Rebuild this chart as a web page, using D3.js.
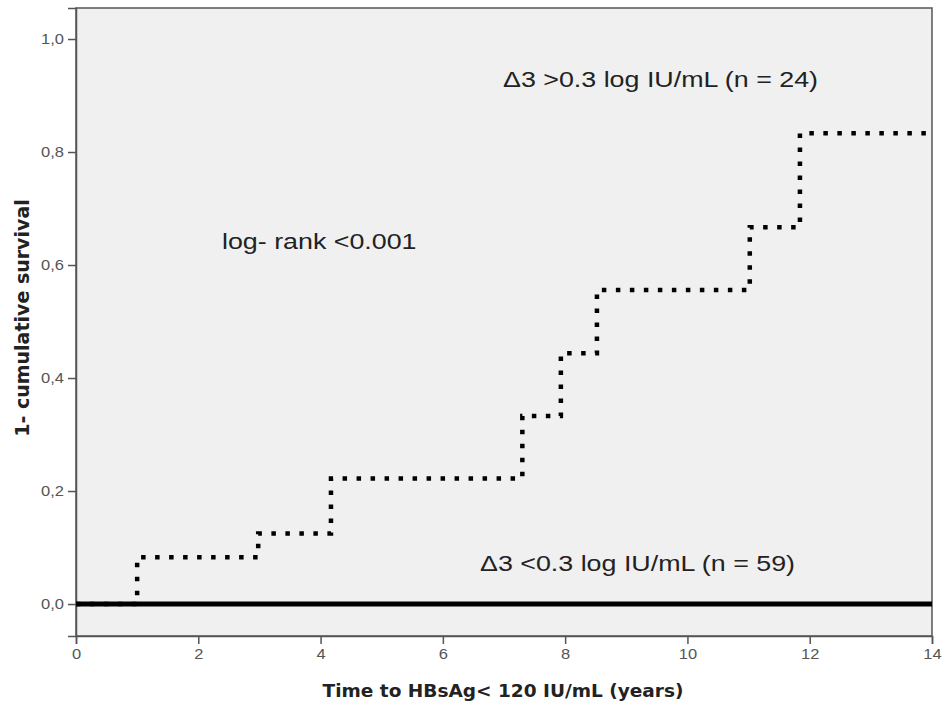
<!DOCTYPE html>
<html>
<head>
<meta charset="utf-8">
<script src="https://cdn.jsdelivr.net/npm/d3@7"></script>
<style>
  body { margin: 0; background: #fff; }
  svg { display: block; }
</style>
</head>
<body>
<div id="chart"></div>
<script>
// step points of the Δ3 >0.3 group (time in years, 1 - cumulative survival)
var highTimes = [0, 1.0, 2.98, 4.17, 7.3, 7.93, 8.52, 11.02, 11.84, 14];
var highValues = [0, 0.083, 0.125, 0.222, 0.333, 0.444, 0.556, 0.667, 0.833, 0.833];
// Δ3 <0.3 group stays at zero
var lowTimes = [0, 14];
var lowValues = [0, 0];

var xTicks = [0, 2, 4, 6, 8, 10, 12, 14];
var yTicks = [0, 0.2, 0.4, 0.6, 0.8, 1.0];

var width = 952, height = 706;
var plotLeft = 76, plotRight = 932, plotTop = 8, plotBottom = 636;

var svg = d3.select("#chart").append("svg")
    .attr("width", width)
    .attr("height", height);

var x = d3.scaleLinear().domain([0, 14]).range([plotLeft, plotRight]);
var y = d3.scaleLinear().domain([-0.0566, 1.0549]).range([plotBottom, plotTop]);

// plot background
svg.append("rect")
    .attr("x", plotLeft).attr("y", plotTop)
    .attr("width", plotRight - plotLeft).attr("height", plotBottom - plotTop)
    .attr("fill", "#f0f0f0")
    .attr("stroke", "#555")
    .attr("stroke-width", 1.5);

var comma = d3.formatLocale({ decimal: ",", thousands: ".", grouping: [3], currency: ["", ""] }).format(".1f");

var xAxis = svg.append("g")
    .attr("transform", "translate(0," + plotBottom + ")")
    .call(d3.axisBottom(x).tickValues(xTicks).tickSize(8).tickPadding(4).tickFormat(d3.format("d")));

var yAxis = svg.append("g")
    .attr("transform", "translate(" + plotLeft + ",0)")
    .call(d3.axisLeft(y).tickValues(yTicks).tickSize(8).tickPadding(3).tickFormat(comma));

[xAxis, yAxis].forEach(function (g) {
    g.select(".domain").attr("stroke", "#555").attr("stroke-width", 1.5);
    g.selectAll(".tick line").attr("stroke", "#555").attr("stroke-width", 1.5);
    g.selectAll(".tick text")
        .attr("fill", "#555")
        .attr("transform", "scale(1.1,1)")
        .style("font-family", "Liberation Sans, Arial, sans-serif")
        .style("font-size", "15px");
});

var line = d3.line()
    .x(function (d) { return x(d[0]); })
    .y(function (d) { return y(d[1]); })
    .curve(d3.curveStepAfter);

svg.append("path")
    .datum(d3.zip(lowTimes, lowValues))
    .attr("d", line)
    .attr("fill", "none")
    .attr("stroke", "#000")
    .attr("stroke-width", 5);

svg.append("path")
    .datum(d3.zip(highTimes, highValues))
    .attr("d", line)
    .attr("fill", "none")
    .attr("stroke", "#000")
    .attr("stroke-width", 4.5)
    .attr("stroke-dasharray", "4.5,9.5");

// annotations (the source image is stretched sideways, hence the x scale)
var notes = [
    { x: 503, y: 87, t: "Δ3 >0.3 log IU/mL (n = 24)" },
    { x: 222, y: 249, t: "log- rank <0.001" },
    { x: 480, y: 571, t: "Δ3 <0.3 log IU/mL (n = 59)" }
];
svg.selectAll(".note")
    .data(notes)
    .enter().append("text")
    .attr("class", "note")
    .attr("transform", function (d) { return "translate(" + d.x + "," + d.y + ") scale(1.22,1)"; })
    .style("font-family", "Liberation Sans, Arial, sans-serif")
    .style("font-size", "22px")
    .attr("fill", "#222")
    .text(function (d) { return d.t; });

// axis titles
svg.append("text")
    .attr("transform", "translate(" + ((plotLeft + plotRight) / 2 - 1) + ",697) scale(1.09,1)")
    .attr("text-anchor", "middle")
    .style("font-family", "DejaVu Sans, Verdana, sans-serif")
    .style("font-weight", "bold")
    .style("font-size", "17px")
    .attr("fill", "#222")
    .text("Time to HBsAg< 120 IU/mL (years)");

svg.append("text")
    .attr("transform", "translate(29,318) rotate(-90)")
    .attr("text-anchor", "middle")
    .style("font-family", "DejaVu Sans, Verdana, sans-serif")
    .style("font-weight", "bold")
    .style("font-size", "19px")
    .attr("fill", "#222")
    .text("1- cumulative survival");
</script>
</body>
</html>
